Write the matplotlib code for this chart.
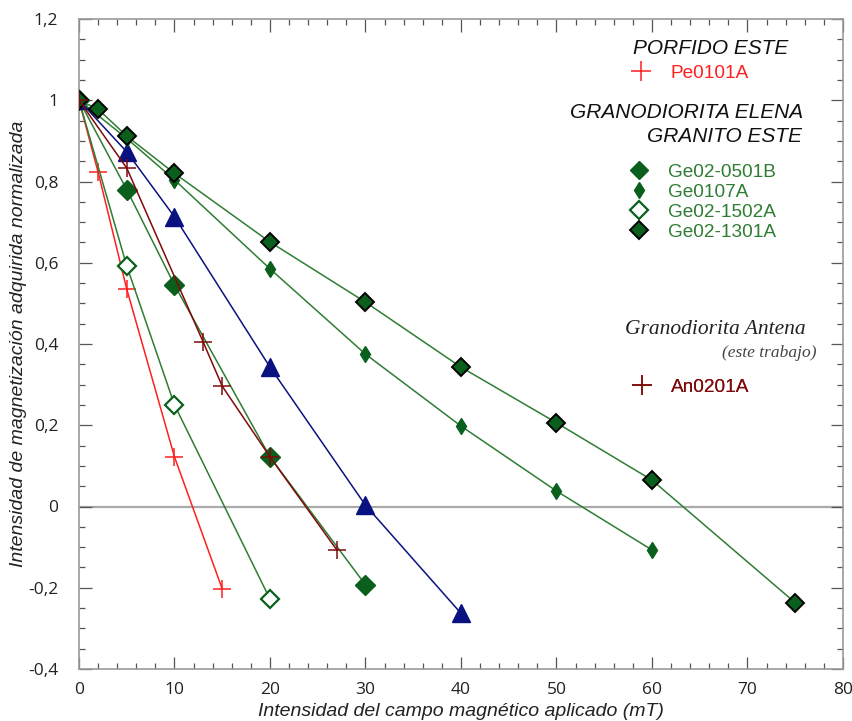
import matplotlib
matplotlib.use("Agg")
import matplotlib.pyplot as plt
from matplotlib.ticker import MultipleLocator, FuncFormatter
from matplotlib.lines import Line2D

plt.rcParams['axes.unicode_minus'] = False

# ---- data ----
pe_x = [0, 2, 5, 10, 15]
pe_y = [1.0, 0.823, 0.535, 0.122, -0.203]

ge0501_x = [0, 5, 10, 20, 30]
ge0501_y = [1.0, 0.78, 0.545, 0.122, -0.193]

ge0107_x = [0, 5, 10, 20, 30, 40, 50, 60]
ge0107_y = [1.0, 0.906, 0.804, 0.585, 0.375, 0.198, 0.038, -0.107]

ge1502_x = [0, 5, 10, 20]
ge1502_y = [1.0, 0.592, 0.25, -0.228]

ge1301_x = [0, 2, 5, 10, 20, 30, 40, 50, 60, 75]
ge1301_y = [1.0, 0.978, 0.912, 0.82, 0.651, 0.503, 0.343, 0.206, 0.065, -0.237]

blue_x = [0, 5, 10, 20, 30, 40]
blue_y = [1.0, 0.873, 0.713, 0.343, 0.003, -0.263]

an_x = [0, 5, 13, 15, 20, 27]
an_y = [1.0, 0.833, 0.405, 0.296, 0.122, -0.107]

x_ticks = [0, 10, 20, 30, 40, 50, 60, 70, 80]
y_ticks = [-0.4, -0.2, 0, 0.2, 0.4, 0.6, 0.8, 1.0, 1.2]

# ---- styles ----
RED = '#ff1f1f'
DRED = '#7f0a0a'
GLINE = '#2f7d33'
GFILL = '#0a5f1c'
GTEXT = '#2e7d32'
BLUE = '#0a1280'

fig = plt.figure(figsize=(8.53, 7.21), dpi=100)
ax = fig.add_axes([79/853, 1-669/721, 764/853, 650/721])

ax.axhline(0, color='#aaaaaa', lw=1.6, zorder=1)

ax.plot(pe_x, pe_y, color=RED, lw=1.1, marker='+', ms=13.5, mew=1.1, zorder=3)
ax.plot(ge1502_x, ge1502_y, color=GLINE, lw=1.1, marker='D', ms=9.5,
        mfc='white', mec=GFILL, mew=1.6, zorder=3)
ax.plot(ge0501_x, ge0501_y, color=GLINE, lw=1.1, marker='D', ms=10,
        mfc=GFILL, mec=GFILL, mew=1, zorder=3)
ax.plot(blue_x, blue_y, color=BLUE, lw=1.1, marker='^', ms=12.5,
        mfc=BLUE, mec=BLUE, zorder=3)
ax.plot(ge0107_x, ge0107_y, color=GLINE, lw=1.1, marker='d', ms=8,
        mfc=GFILL, mec=GFILL, zorder=3)
ax.plot(ge1301_x, ge1301_y, color=GLINE, lw=1.1, marker='D', ms=9.5,
        mfc=GFILL, mec='black', mew=1.4, zorder=3)
ax.plot(an_x, an_y, color=DRED, lw=1.1, marker='+', ms=13.5, mew=1.1, zorder=4)

ax.set_xlim(0, 80)
ax.set_ylim(-0.4, 1.2)
ax.set_xticks(x_ticks)
ax.set_yticks(y_ticks)
ax.xaxis.set_minor_locator(MultipleLocator(2))
ax.yaxis.set_minor_locator(MultipleLocator(0.05))

fmt = FuncFormatter(lambda v, p: f"{v:g}".replace('.', ','))
ax.yaxis.set_major_formatter(fmt)
ax.xaxis.set_major_formatter(FuncFormatter(lambda v, p: f"{v:g}"))

for s in ax.spines.values():
    s.set_color('#9a9a9a')
    s.set_linewidth(1.2)
ax.tick_params(which='both', direction='in', top=True, right=True,
               color='#555555', width=0.9)
ax.tick_params(which='major', length=9)
ax.tick_params(which='minor', length=4.5)
ax.tick_params(axis='x', which='major', pad=9, labelsize=12.5)
ax.tick_params(axis='y', which='major', pad=15, labelsize=12.5)
for lbl in ax.get_xticklabels() + ax.get_yticklabels():
    lbl.set_fontfamily('Open Sans')
    lbl.set_color('#222222')

ax.set_xlabel('Intensidad del campo magnético aplicado (mT)', fontsize=14,
              style='italic', family='Liberation Sans', labelpad=4, color='#222222')
ax.set_ylabel('Intensidad de magnetización adquirida normalizada', fontsize=14,
              style='italic', family='Liberation Sans', labelpad=0.5, color='#222222')

# ---- legend blocks ----
def axfx(px):
    return (px - 79) / 764

def axfy(py):
    return (669 - py) / 650

LFS = 13.7

def add_entry(handle, label, color, mx, my):
    fs_px = LFS * 100 / 72
    left = mx - 0.5 * fs_px
    leg = ax.legend([handle], [label], loc='center left',
                    bbox_to_anchor=(axfx(left), axfy(my)),
                    frameon=False, borderpad=0, borderaxespad=0,
                    handlelength=1.0, handletextpad=1.0,
                    prop={'family': 'Liberation Sans', 'size': LFS})
    for t in leg.get_texts():
        t.set_color(color)
    ax.add_artist(leg)

tfont = dict(family='Liberation Sans', style='italic', fontsize=15, color='#111111')
ax.text(axfx(711), axfy(48), 'PORFIDO ESTE', ha='center', va='center',
        transform=ax.transAxes, **tfont)
ax.text(axfx(803), axfy(113), 'GRANODIORITA ELENA', ha='right', va='center',
        transform=ax.transAxes, **tfont)
ax.text(axfx(802), axfy(137), 'GRANITO ESTE', ha='right', va='center',
        transform=ax.transAxes, **tfont)
ax.text(axfx(806), axfy(330), 'Granodiorita Antena', ha='right', va='center',
        transform=ax.transAxes, family='Liberation Serif', style='italic',
        fontsize=15.5, color='#222222')
ax.text(axfx(817), axfy(353), '(este trabajo)', ha='right', va='center',
        transform=ax.transAxes, family='Liberation Serif', style='italic',
        fontsize=12.5, color='#444444')

h_pe = Line2D([], [], ls='none', marker='+', ms=14, mew=1.1, color=RED)
h_g1 = Line2D([], [], ls='none', marker='D', ms=9.5, mfc=GFILL, mec=GFILL)
h_g2 = Line2D([], [], ls='none', marker='d', ms=8, mfc=GFILL, mec=GFILL)
h_g3 = Line2D([], [], ls='none', marker='D', ms=9, mfc='white', mec=GFILL, mew=1.6)
h_g4 = Line2D([], [], ls='none', marker='D', ms=9, mfc=GFILL, mec='black', mew=1.4)
h_an = Line2D([], [], ls='none', marker='+', ms=14, mew=1.1, color=DRED)

add_entry(h_pe, 'Pe0101A', RED, 641.5, 73)
add_entry(h_g1, 'Ge02-0501B', GTEXT, 639, 172)
add_entry(h_g2, 'Ge0107A', GTEXT, 639, 192)
add_entry(h_g3, 'Ge02-1502A', GTEXT, 639, 212)
add_entry(h_g4, 'Ge02-1301A', GTEXT, 639, 232)
add_entry(h_an, 'An0201A', DRED, 642, 387)

fig.savefig('out.png', dpi=100)
